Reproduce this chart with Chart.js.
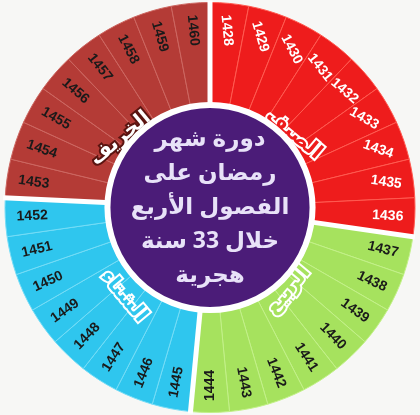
<!DOCTYPE html>
<html>
<head>
<meta charset="utf-8">
<script src="https://cdn.jsdelivr.net/npm/chart.js@4.4.0/dist/chart.umd.min.js"></script>
<style>
  html, body { margin: 0; padding: 0; background: #f7f7f5; }
  #wrap { width: 420px; height: 415px; }
</style>
</head>
<body>
<div id="wrap"><canvas id="ring"></canvas></div>
<script>
'use strict';

// years 1428..1460, one slice each
const years = ['1428','1429','1430','1431','1432','1433','1434','1435','1436',
  '1437','1438','1439','1440','1441','1442','1443','1444',
  '1445','1446','1447','1448','1449','1450','1451','1452',
  '1453','1454','1455','1456','1457','1458','1459','1460'];
const sliceValues = years.map(() => 1);
const seasons = ['الصيف', 'الربيع', 'الشتاء', 'الخريف'];
const seasonCounts = [9, 8, 8, 8];
const seasonColors = ['#ee1c1c', '#a6e25e', '#2fc6ee', '#b43b36'];
const seasonEdge = ['#ff5a50', '#c2f088', '#74dcf6', '#cc6660'];
const yearTextColors = ['#ffffff', '#1a1a1a', '#1a1a1a', '#1a1a1a'];
const centerLines = ['دورة شهر', 'رمضان على', 'الفصول الأربع', 'خلال 33 سنة', 'هجرية'];

// which season each year falls in
const seasonOf = [];
seasonCounts.forEach((n, s) => { for (let i = 0; i < n; i++) seasonOf.push(s); });

const ringPlugin = {
  id: 'ringPlugin',
  afterDatasetsDraw(chart) {
    const ctx = chart.ctx;
    const arcs = chart.getDatasetMeta(0).data;
    const cx = arcs[0].x, cy = arcs[0].y;
    const outer = arcs[0].outerRadius, inner = arcs[0].innerRadius;

    // white gaps between seasons
    ctx.save();
    ctx.strokeStyle = '#ffffff';
    ctx.lineWidth = 5;
    arcs.forEach((a, i) => {
      if (i === 0 || seasonOf[i] !== seasonOf[i - 1]) {
        ctx.beginPath();
        ctx.moveTo(cx + Math.cos(a.startAngle) * inner, cy + Math.sin(a.startAngle) * inner);
        ctx.lineTo(cx + Math.cos(a.startAngle) * (outer + 2), cy + Math.sin(a.startAngle) * (outer + 2));
        ctx.stroke();
      }
    });

    // year labels
    ctx.font = 'bold 14px "Liberation Sans", Arial, sans-serif';
    ctx.textAlign = 'center';
    ctx.textBaseline = 'middle';
    arcs.forEach((a, i) => {
      const mid = (a.startAngle + a.endAngle) / 2;
      let deg = ((mid + Math.PI / 2) * 180 / Math.PI + 360) % 360;
      let rot;
      if (deg < 90) rot = 90 - deg;
      else if (deg < 180) rot = deg - 90;
      else rot = deg - 270;
      const r = outer - 27;
      ctx.save();
      ctx.translate(cx + Math.cos(mid) * r, cy + Math.sin(mid) * r);
      ctx.rotate(rot * Math.PI / 180);
      ctx.fillStyle = yearTextColors[seasonOf[i]];
      ctx.fillText(years[i], 0, 0);
      ctx.restore();
    });

    // season names
    const seasonSpots = [[294, 134, 40], [288, 290, -50], [124, 296, 50], [120, 138, -40]];
    ctx.font = 'bold 20px "Noto Sans", "DejaVu Sans", sans-serif';
    seasons.forEach((name, s) => {
      const p = seasonSpots[s];
      ctx.save();
      ctx.translate(p[0], p[1]);
      ctx.rotate(p[2] * Math.PI / 180);
      ctx.lineWidth = 4;
      ctx.strokeStyle = s === 3 ? '#5a1410' : '#ffffff';
      ctx.strokeText(name, 0, 0);
      ctx.fillStyle = s === 3 ? '#ffffff' : seasonColors[s];
      ctx.fillText(name, 0, 0);
      ctx.restore();
    });

    // purple centre
    ctx.beginPath();
    ctx.arc(cx, cy, inner - 2, 0, Math.PI * 2);
    ctx.fillStyle = '#4b1c78';
    ctx.fill();
    ctx.lineWidth = 6;
    ctx.strokeStyle = '#ffffff';
    ctx.stroke();

    ctx.fillStyle = '#e8e2f8';
    ctx.font = 'bold 23px "Noto Sans", "DejaVu Sans", sans-serif';
    centerLines.forEach((line, k) => {
      ctx.fillText(line, cx, cy - 68 + k * 34);
    });
    ctx.restore();
  }
};

new Chart(document.getElementById('ring'), {
  type: 'doughnut',
  data: {
    labels: years,
    datasets: [{
      data: sliceValues,
      backgroundColor: seasonOf.map(s => seasonColors[s]),
      borderColor: seasonOf.map(s => seasonEdge[s]),
      borderWidth: 1
    }]
  },
  options: {
    responsive: true,
    maintainAspectRatio: false,
    animation: false,
    cutout: '51%',
    layout: { padding: 2 },
    plugins: { legend: { display: false }, tooltip: { enabled: false } }
  },
  plugins: [ringPlugin]
});
</script>
</body>
</html>
